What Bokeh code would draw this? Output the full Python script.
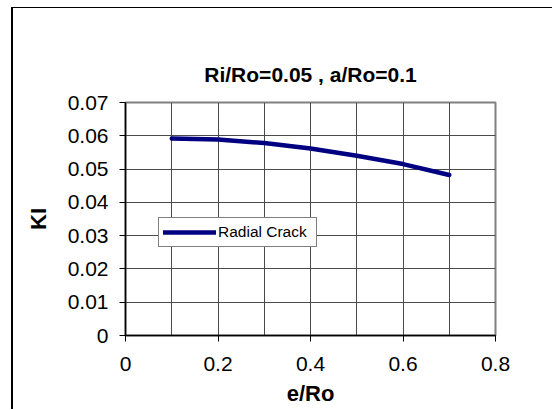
from bokeh.plotting import figure
from bokeh.models import FixedTicker, Legend, LegendItem, Range1d
from bokeh.embed import file_html
from bokeh.resources import INLINE

# Stress intensity factor along the eccentricity ratio
e_ro = [0.1, 0.2, 0.3, 0.4, 0.5, 0.6, 0.7]
ki_radial = [0.0592, 0.0589, 0.0578, 0.0562, 0.0540, 0.0515, 0.0482]
series_name = "Radial Crack"

chart_title = "Ri/Ro=0.05 , a/Ro=0.1"
x_title = "e/Ro"
y_title = "KI"

x_ticks = [0, 0.2, 0.4, 0.6, 0.8]
x_tick_labels = ["0", "0.2", "0.4", "0.6", "0.8"]
x_grid_ticks = [0.1, 0.2, 0.3, 0.4, 0.5, 0.6, 0.7]
y_ticks = [0, 0.01, 0.02, 0.03, 0.04, 0.05, 0.06, 0.07]
y_tick_labels = ["0", "0.01", "0.02", "0.03", "0.04", "0.05", "0.06", "0.07"]

FONT = "Liberation Sans"

p = figure(
    width=541, height=402,
    x_range=Range1d(0, 0.8), y_range=Range1d(0, 0.07),
    output_backend="svg", toolbar_location=None,
    min_border_left=112, min_border_right=59,
    min_border_top=94, min_border_bottom=75,
    background_fill_color="white", border_fill_color="white",
)
p.styles = {
    "margin-left": "11px", "margin-top": "7px",
    "border-left": "2px solid black", "border-top": "1px solid black",
}

p.title.text = chart_title
p.title.align = "center"
p.title.text_font = FONT
p.title.text_font_size = "21px"
p.title.text_font_style = "bold"
p.title.text_color = "black"
p.title.offset = -7
p.title.standoff = 34

p.outline_line_color = "#808080"
p.outline_line_width = 2

# axes
for ax in (p.xaxis[0], p.yaxis[0]):
    ax.axis_line_color = "black"
    ax.axis_line_width = 1.5
    ax.major_tick_line_color = "black"
    ax.major_tick_out = 6
    ax.major_tick_in = 0
    ax.minor_tick_line_color = None
    ax.major_label_text_font = FONT
    ax.major_label_text_font_size = "21px"
    ax.major_label_text_color = "black"
    ax.axis_label_text_font = FONT
    ax.axis_label_text_font_style = "bold"
    ax.axis_label_text_color = "black"

p.xaxis.ticker = FixedTicker(ticks=x_ticks)
p.xaxis.major_label_overrides = dict(zip(x_ticks, x_tick_labels))
p.xaxis.axis_label = x_title
p.xaxis.axis_label_text_font_size = "22px"
p.xaxis.major_label_standoff = 15
p.xaxis.axis_label_standoff = 7

p.yaxis.ticker = FixedTicker(ticks=y_ticks)
p.yaxis.major_label_overrides = dict(zip(y_ticks, y_tick_labels))
p.yaxis.axis_label = y_title
p.yaxis.axis_label_text_font_size = "22px"
p.yaxis.major_label_standoff = 11
p.yaxis.axis_label_standoff = 14

# grid
p.xgrid.ticker = FixedTicker(ticks=x_grid_ticks)
p.ygrid.ticker = FixedTicker(ticks=y_ticks)
for g in (p.xgrid[0], p.ygrid[0]):
    g.grid_line_color = "#4a4a4a"
    g.grid_line_width = 1

line = p.line(e_ro, ki_radial, line_color="#000080", line_width=4.5,
              line_cap="round", line_join="round")

legend = Legend(
    items=[LegendItem(label=series_name, renderers=[line])],
    location=(33, 88),
    border_line_color="black", border_line_width=1,
    background_fill_color="white", background_fill_alpha=1,
    padding=4, margin=0, spacing=0,
    glyph_width=53, glyph_height=20,
    label_standoff=2, label_width=94, label_height=20,
    label_text_font=FONT, label_text_font_size="15.5px",
    label_text_color="black",
)
p.add_layout(legend, "center")

open("out.html", "w").write(file_html(p, INLINE))
